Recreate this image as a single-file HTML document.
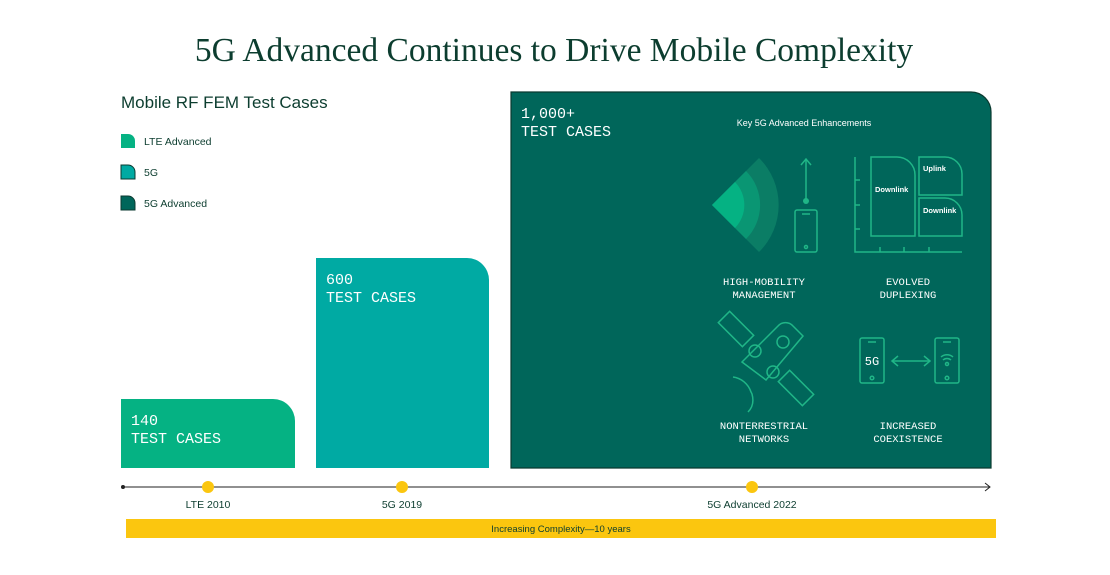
<!DOCTYPE html>
<html><head><meta charset="utf-8"><style>
html,body{margin:0;padding:0;background:#fff;width:1110px;height:575px;overflow:hidden}
svg{display:block}
.sans{font-family:"Liberation Sans",sans-serif}
.mono{font-family:"Liberation Mono",monospace}
</style></head><body>
<svg id="chart" width="1110" height="575" viewBox="0 0 1110 575">
<text x="554" y="61" text-anchor="middle" font-family="Liberation Serif,serif" font-size="33.5" fill="#0c3d2f">5G Advanced Continues to Drive Mobile Complexity</text>
<text x="121" y="108" class="sans" font-size="17" fill="#0c3d2f">Mobile RF FEM Test Cases</text>
<g id="legend"></g>
<g id="bars"></g>
<g id="icons" fill="none" stroke="#20b687" stroke-width="1.5">
<text x="804" y="126" text-anchor="middle" class="sans" font-size="9" fill="#fff" stroke="none">Key 5G Advanced Enhancements</text>
<g>
<path d="M712,205 L759,158 A66,66 0 0 1 759,252 Z" fill="#0b7d65" stroke="none"/>
<path d="M712,205 L746,171 A48,48 0 0 1 746,239 Z" fill="#0a9673" stroke="none"/>
<path d="M712,205 L735,182 A33,33 0 0 1 735,228 Z" fill="#05b283" stroke="none"/>
<line x1="806" y1="160" x2="806" y2="201"/><path d="M801,165 L806,159 L811,165"/>
<circle cx="806" cy="201" r="3" fill="#20b687" stroke="none"/>
<rect x="795" y="210" width="22" height="42" rx="2"/><line x1="802" y1="214" x2="810" y2="214"/><circle cx="806" cy="247" r="1.5"/>
</g>
<g>
<path d="M855,157 V252 H962"/>
<path d="M855,180 h5 M855,205 h5 M855,229 h5 M880,252 v-5 M904,252 v-5 M929,252 v-5"/>
<path d="M871,157 H897 A18,18 0 0 1 915,175 V236 H871 Z"/>
<path d="M919,157 H945 A17,17 0 0 1 962,174 V195 H919 Z"/>
<path d="M919,198 H945 A17,17 0 0 1 962,215 V236 H919 Z"/>
<text x="875" y="192" class="sans" font-size="7.5" font-weight="bold" fill="#fff" stroke="none">Downlink</text>
<text x="923" y="171" class="sans" font-size="7.5" font-weight="bold" fill="#fff" stroke="none">Uplink</text>
<text x="923" y="213" class="sans" font-size="7.5" font-weight="bold" fill="#fff" stroke="none">Downlink</text>
</g>
<g>
<rect x="-8" y="-17" width="16" height="34" transform="translate(736,329) rotate(-45)"/>
<path d="M742,362 L778,326 A10,10 0 0 1 793,326 L803,336 L766,380 Z"/>
<circle cx="783" cy="342" r="6"/>
<circle cx="755" cy="351" r="6"/><circle cx="773" cy="372" r="6"/>
<rect x="-8" y="-17" width="16" height="34" transform="translate(796,388) rotate(-45)"/>
<path d="M733,377 A22,22 0 0 1 751,392 A22,22 0 0 1 752,394 M752,394 Q755,405 748,412" />
</g>
<g>
<rect x="860" y="338" width="24" height="45" rx="2"/><line x1="868" y1="342" x2="876" y2="342"/><circle cx="872" cy="378" r="1.8"/>
<text x="872" y="365" text-anchor="middle" class="mono" font-size="12" fill="#fff" stroke="none">5G</text>
<line x1="893" y1="361" x2="929" y2="361"/><path d="M898,356 L892,361 L898,366 M924,356 L930,361 L924,366"/>
<rect x="935" y="338" width="24" height="45" rx="2"/><line x1="943" y1="342" x2="951" y2="342"/><circle cx="947" cy="378" r="1.8"/>
<path d="M941,357 A9,9 0 0 1 953,357 M943,360 A6,6 0 0 1 951,360"/><circle cx="947" cy="364" r="1.5"/>
</g>
<g class="mono" font-size="10.5" fill="#fff" stroke="none" text-anchor="middle">
<text x="764" y="285">HIGH-MOBILITY</text><text x="764" y="298">MANAGEMENT</text>
<text x="908" y="285">EVOLVED</text><text x="908" y="298">DUPLEXING</text>
<text x="764" y="429">NONTERRESTRIAL</text><text x="764" y="442">NETWORKS</text>
<text x="908" y="429">INCREASED</text><text x="908" y="442">COEXISTENCE</text>
</g>
</g>
<g id="timeline"></g>
<rect x="126" y="519" width="870" height="19" fill="#fbc60f"/>
<text x="561" y="532" text-anchor="middle" class="sans" font-size="9.5" fill="#0c3d2f">Increasing Complexity—10 years</text>
</svg>
<script>
const categories = ["LTE Advanced", "5G", "5G Advanced"];
const values = [140, 600, 1000];
const valueLabels = ["140", "600", "1,000+"];
const years = ["LTE 2010", "5G 2019", "5G Advanced 2022"];
const yearValues = [2010, 2019, 2022];
const colors = ["#05b283", "#00aaa3", "#00665a"];

const NS = "http://www.w3.org/2000/svg";
const baseY = 468;
// axis function: piecewise scale for bar heights
function yScale(v) {
  const d = [0, 140, 600, 1000], r = [0, 69, 210, 376];
  for (let i = 1; i < d.length; i++) {
    if (v <= d[i] || i === d.length - 1) {
      return r[i-1] + (v - d[i-1]) / (d[i] - d[i-1]) * (r[i] - r[i-1]);
    }
  }
}
// axis function: piecewise time scale for the (non-linear) timeline
function xYear(y) {
  const d = [2010, 2019, 2022], r = [208, 402, 752];
  for (let i = 1; i < d.length; i++) {
    if (y <= d[i] || i === d.length - 1) {
      return r[i-1] + (y - d[i-1]) / (d[i] - d[i-1]) * (r[i] - r[i-1]);
    }
  }
}
const barX = [121, 316, 511], barW = [174, 173, 480];
function mk(tag, attrs, parent) { const e = document.createElementNS(NS, tag); for (const k in attrs) e.setAttribute(k, attrs[k]); parent.appendChild(e); return e; }

const bars = document.getElementById("bars");
values.forEach((v, i) => {
  const h = yScale(v), x = barX[i], w = barW[i], top = baseY - h, r = i === 2 ? 20 : 22;
  const p = mk("path", { d: `M${x},${baseY} V${top} H${x + w - r} A${r},${r} 0 0 1 ${x + w},${top + r} V${baseY} Z`, fill: colors[i], stroke: i === 2 ? "#0b3a30" : "none", "stroke-width": 1.2 }, bars);
  
  
  const t = mk("text", { x: x + 10, y: top + 26, "font-family": "Liberation Mono,monospace", "font-size": 15, fill: "#fff" }, bars);
  t.textContent = valueLabels[i];
  
  
  const t2 = mk("text", { x: x + 10, y: top + 44, "font-family": "Liberation Mono,monospace", "font-size": 15, fill: "#fff" }, bars);
  t2.textContent = "TEST CASES";
  
  
});

const legend = document.getElementById("legend");
categories.forEach((c, i) => {
  const y = 134 + i * 31;
  const sw = mk("path", { d: `M121,${y} H128 A7,7 0 0 1 135,${y + 7} V${y + 14} H121 Z`, fill: colors[i], stroke: i ? "#0b3a30" : "none", "stroke-width": 1 }, legend);
  
  
  const t = mk("text", { x: 144, y: y + 11, "font-family": "Liberation Sans,sans-serif", "font-size": 10.5, fill: "#0c3d2f" }, legend);
  t.textContent = c;
  
  
});

const tl = document.getElementById("timeline");
const axis = mk("line", { x1: 123, y1: 487, x2: 990, y2: 487, stroke: "#222", "stroke-width": 1 }, tl);


mk("circle", { cx: 123, cy: 487, r: 2, fill: "#222" }, tl);
mk("path", { d: "M985,483 L990,487 L985,491", fill: "none", stroke: "#222", "stroke-width": 1 }, tl);
yearValues.forEach((y, i) => {
  const cx = xYear(y);
  const c = mk("circle", { cx: cx, cy: 487, r: 6, fill: "#fbc60f" }, tl);
  
  
  const t = mk("text", { x: cx, y: 508, "text-anchor": "middle", "font-family": "Liberation Sans,sans-serif", "font-size": 10.5, fill: "#0c3d2f" }, tl);
  t.textContent = years[i];
  
  
});
</script>
</body></html>
